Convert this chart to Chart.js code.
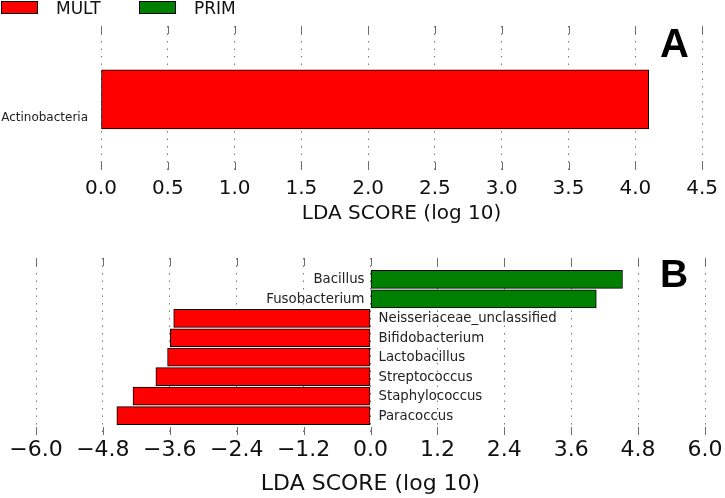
<!DOCTYPE html>
<html><head><meta charset="utf-8">
<script src="https://cdn.jsdelivr.net/npm/chart.js@4"></script>
<style>
html,body{margin:0;padding:0;background:#fff;}
#wrap{position:relative;width:725px;height:498px;overflow:hidden;background:#fff;}
canvas{position:absolute;left:0;}
</style></head><body>
<div id="wrap">
<canvas id="ca" width="725" height="240" style="top:0px"></canvas>
<canvas id="cb" width="725" height="258" style="top:240px"></canvas>
</div>
<script>
// ---- data ----
const classes = ['MULT', 'PRIM'];
const classColors = ['#ff0000', '#008000'];

const catsA = ['Actinobacteria'];
const valsA = [4.10];
const classA = ['MULT'];

const catsB = ['Bacillus', 'Fusobacterium', 'Neisseriaceae_unclassified', 'Bifidobacterium',
               'Lactobacillus', 'Streptococcus', 'Staphylococcus', 'Paracoccus'];
const valsB = [4.52, 4.05, -3.53, -3.59, -3.64, -3.85, -4.26, -4.55];
const classB = ['PRIM', 'PRIM', 'MULT', 'MULT', 'MULT', 'MULT', 'MULT', 'MULT'];

const ticksA = [0.0, 0.5, 1.0, 1.5, 2.0, 2.5, 3.0, 3.5, 4.0, 4.5];
const tickLabelsA = ['0.0', '0.5', '1.0', '1.5', '2.0', '2.5', '3.0', '3.5', '4.0', '4.5'];
const ticksB = [-6.0, -4.8, -3.6, -2.4, -1.2, 0.0, 1.2, 2.4, 3.6, 4.8, 6.0];
const tickLabelsB = ['\u22126.0', '\u22124.8', '\u22123.6', '\u22122.4', '\u22121.2', '0.0', '1.2', '2.4', '3.6', '4.8', '6.0'];
const axisTitle = 'LDA SCORE (log 10)';
const panelLetters = ['A', 'B'];

// ---- helpers ----
const FONT = 'DejaVu Sans';
function buildDatasets(cats, vals, cls, thickness) {
  const n = cats.length;
  return classes.map((c, k) => ({
    label: c,
    data: cats.map((name, i) => ({ x: vals[i], y: n - 1 - i, name: name, cls: cls[i] }))
              .filter(d => d.cls === c),
    backgroundColor: classColors[k],
    borderColor: '#000',
    borderWidth: 1,
    borderSkipped: false,
    barThickness: thickness,
    grouped: false
  }));
}

const tickMarks = {
  id: 'tickMarks',
  afterDraw(chart) {
    const { ctx, chartArea: { top, bottom } } = chart;
    const s = chart.scales.x;
    ctx.save();
    ctx.strokeStyle = '#6e6e6e';
    ctx.lineWidth = 1;
    s.ticks.forEach(t => {
      const x = Math.round(s.getPixelForValue(t.value)) + 0.5;
      ctx.beginPath();
      ctx.moveTo(x, top); ctx.lineTo(x, top + 8);
      ctx.moveTo(x, bottom); ctx.lineTo(x, bottom - 8);
      ctx.stroke();
    });
    ctx.restore();
  }
};

function xScale(min, max, ticks, labels, height, labelPad, titlePadBottom, fontSize) {
  return {
    type: 'linear', position: 'bottom', min: min, max: max, z: 1,
    afterBuildTicks: s => { s.ticks = ticks.map(v => ({ value: v })); },
    afterFit: s => { s.height = height; },
    grid: { color: '#777', lineWidth: 1, drawTicks: false, drawOnChartArea: true },
    border: { display: false, dash: [1.5, 6] },
    ticks: {
      font: { family: FONT, size: fontSize }, color: '#111', padding: labelPad,
      maxRotation: 0, autoSkip: false,
      callback: (v, i) => labels[i]
    },
    title: {
      display: true, text: axisTitle, color: '#111',
      font: { family: FONT, size: fontSize },
      padding: { top: 0, bottom: titlePadBottom }
    }
  };
}

// ---- panel A ----
const panelAExtras = {
  id: 'panelAExtras',
  afterDraw(chart) {
    const ctx = chart.ctx;
    const ys = chart.scales.y;
    ctx.save();
    ctx.font = '12px "' + FONT + '"';
    ctx.fillStyle = '#222';
    ctx.textAlign = 'right';
    ctx.textBaseline = 'middle';
    catsA.forEach((name, i) => {
      ctx.fillText(name, chart.chartArea.left - 13, ys.getPixelForValue(catsA.length - 1 - i) + 18);
    });
    // legend
    ctx.textAlign = 'left';
    ctx.textBaseline = 'alphabetic';
    ctx.font = '17px "' + FONT + '"';
    const lx = [1, 139];
    classes.forEach((c, k) => {
      ctx.fillStyle = classColors[k];
      ctx.fillRect(lx[k] + 0.5, 1.5, 36, 12);
      ctx.strokeStyle = '#000';
      ctx.lineWidth = 1;
      ctx.strokeRect(lx[k] + 0.5, 1.5, 36, 12);
      ctx.fillStyle = '#111';
      ctx.fillText(c, lx[k] + 55, 13.5);
    });
    ctx.font = 'bold 40px "Liberation Sans"';
    ctx.fillStyle = '#000';
    ctx.fillText(panelLetters[0], 660, 57);
    ctx.restore();
  }
};

new Chart(document.getElementById('ca'), {
  type: 'bar',
  data: { datasets: buildDatasets(catsA, valsA, classA, 59) },
  options: {
    indexAxis: 'y', responsive: false, animation: false, devicePixelRatio: 1,
    layout: { padding: { left: 101, right: 20, top: 26, bottom: 0 } },
    plugins: { legend: { display: false }, tooltip: { enabled: false } },
    scales: {
      x: xScale(0, 4.5, ticksA, tickLabelsA, 70, 7, 14, 20),
      y: { type: 'linear', min: -1, max: 1.04, display: false, offset: false }
    }
  },
  plugins: [tickMarks, panelAExtras]
});

// ---- panel B ----
const panelBExtras = {
  id: 'panelBExtras',
  afterDraw(chart) {
    const ctx = chart.ctx;
    const ys = chart.scales.y, xs = chart.scales.x;
    const x0 = xs.getPixelForValue(0);
    ctx.save();
    ctx.font = '13.3px "' + FONT + '"';
    ctx.fillStyle = '#222';
    ctx.textBaseline = 'middle';
    catsB.forEach((name, i) => {
      const y = ys.getPixelForValue(catsB.length - 1 - i) + 0.5;
      if (valsB[i] >= 0) { ctx.textAlign = 'right'; ctx.fillText(name, x0 - 6, y); }
      else { ctx.textAlign = 'left'; ctx.fillText(name, x0 + 8, y); }
    });
    ctx.textAlign = 'left';
    ctx.textBaseline = 'alphabetic';
    ctx.font = 'bold 39px "Liberation Sans"';
    ctx.fillStyle = '#000';
    ctx.fillText(panelLetters[1], 660, 47);
    ctx.restore();
  }
};

new Chart(document.getElementById('cb'), {
  type: 'bar',
  data: { datasets: buildDatasets(catsB, valsB, classB, 18) },
  options: {
    indexAxis: 'y', responsive: false, animation: false, devicePixelRatio: 1,
    layout: { padding: { left: 36, right: 20, top: 18, bottom: 0 } },
    plugins: { legend: { display: false }, tooltip: { enabled: false } },
    scales: {
      x: xScale(-6, 6, ticksB, tickLabelsB, 63, 2, 1, 22),
      y: { type: 'linear', min: -1.0, max: 8.1, display: false, offset: false }
    }
  },
  plugins: [tickMarks, panelBExtras]
});
</script>
</body></html>
